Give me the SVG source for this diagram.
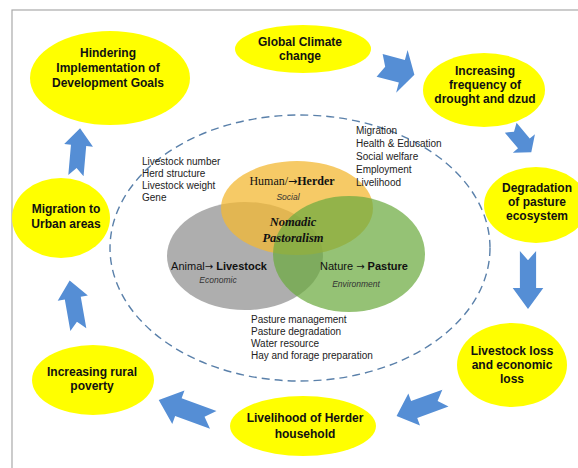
<svg xmlns="http://www.w3.org/2000/svg" width="578" height="468" viewBox="0 0 578 468">
<style>
.node{fill:#FFFF00}
.nt{font-family:"Liberation Sans",Arial,sans-serif;font-weight:bold;font-size:12px;fill:#111;text-anchor:middle}
.lst{font-family:"Liberation Sans",Arial,sans-serif;font-size:10px;fill:#222}
.lbl{font-family:"Liberation Sans",Arial,sans-serif;font-size:11px;fill:#111;text-anchor:middle}
.ser{font-family:"Liberation Serif","Times New Roman",serif;fill:#111;text-anchor:middle}
.sub{font-family:"Liberation Sans",Arial,sans-serif;font-size:8.5px;font-style:italic;fill:#333;text-anchor:middle}
.ar{font-family:"DejaVu Sans",sans-serif;font-weight:normal}
.arr{fill:#558ED5}
</style>
<defs>
<path id="arr" d="M-25,-9 L7,-9 L7,-17 L25,0 L7,17 L7,9 L-25,9 L-17,0 Z"/>
</defs>
<rect x="12" y="10" width="600" height="500" fill="none" stroke="#aaaaaa" stroke-width="1.2"/>
<ellipse cx="300" cy="248" rx="190" ry="133" fill="none" stroke="#5a80aa" stroke-width="1.4" stroke-dasharray="8,5"/>
<g id="venn">
<ellipse cx="245" cy="256" rx="78" ry="54" fill="#9a9a9a" fill-opacity="0.8"/>
<ellipse cx="297" cy="208" rx="76" ry="47" fill="#F3B833" fill-opacity="0.75"/>
<ellipse cx="349" cy="254" rx="76" ry="58" fill="#6CAB40" fill-opacity="0.72"/>
<text class="ser" x="292" y="185" font-size="12">Human/<tspan class="ar" font-size="11">→</tspan><tspan font-weight="bold">Herder</tspan></text>
<text class="sub" x="288" y="200" font-family="Liberation Serif">Social</text>
<text class="ser" x="293" y="226" font-size="12.5" font-weight="bold" font-style="italic">Nomadic</text>
<text class="ser" x="293" y="242" font-size="12.5" font-weight="bold" font-style="italic">Pastoralism</text>
<text class="lbl" x="219" y="270">Animal<tspan class="ar" font-size="10">→</tspan> <tspan font-weight="bold">Livestock</tspan></text>
<text class="sub" x="218" y="283">Economic</text>
<text class="lbl" x="364" y="270">Nature <tspan class="ar" font-size="10">→</tspan> <tspan font-weight="bold">Pasture</tspan></text>
<text class="sub" x="356" y="287">Environment</text>
</g>
<g id="lists">
<text class="lst" x="142" y="165">Livestock number</text>
<text class="lst" x="142" y="177">Herd structure</text>
<text class="lst" x="142" y="189">Livestock weight</text>
<text class="lst" x="142" y="201">Gene</text>
<text class="lst" x="356" y="134">Migration</text>
<text class="lst" x="356" y="147">Health &amp; Education</text>
<text class="lst" x="356" y="160">Social welfare</text>
<text class="lst" x="356" y="173">Employment</text>
<text class="lst" x="356" y="186">Livelihood</text>
<text class="lst" x="251" y="323">Pasture management</text>
<text class="lst" x="251" y="335">Pasture degradation</text>
<text class="lst" x="251" y="347">Water resource</text>
<text class="lst" x="251" y="359">Hay and forage preparation</text>
</g>
<g id="n1"><ellipse class="node" cx="110" cy="78" rx="80" ry="47"/>
<text class="nt" x="108" y="57">Hindering</text><text class="nt" x="108" y="72">Implementation  of</text><text class="nt" x="108" y="87">Development Goals</text></g>
<g id="n2"><ellipse class="node" cx="303" cy="49" rx="68" ry="24"/>
<text class="nt" x="300" y="46">Global Climate</text><text class="nt" x="300" y="60">change</text></g>
<g id="n3"><ellipse class="node" cx="484" cy="90" rx="61" ry="37"/>
<text class="nt" x="485" y="75">Increasing</text><text class="nt" x="485" y="89">frequency of</text><text class="nt" x="485" y="103">drought and dzud</text></g>
<g id="n4"><ellipse class="node" cx="536" cy="205" rx="52" ry="38"/>
<text class="nt" x="537" y="192">Degradation</text><text class="nt" x="537" y="206">of pasture</text><text class="nt" x="537" y="220">ecosystem</text></g>
<g id="n5"><ellipse class="node" cx="512" cy="365" rx="55" ry="42"/>
<text class="nt" x="512" y="355">Livestock loss</text><text class="nt" x="512" y="369">and economic</text><text class="nt" x="512" y="383">loss</text></g>
<g id="n6"><ellipse class="node" cx="303" cy="426" rx="73" ry="30"/>
<text class="nt" x="305" y="422">Livelihood of Herder</text><text class="nt" x="305" y="438">household</text></g>
<g id="n7"><ellipse class="node" cx="93" cy="380" rx="61" ry="35"/>
<text class="nt" x="92" y="376">Increasing rural</text><text class="nt" x="92" y="390">poverty</text></g>
<g id="n8"><ellipse class="node" cx="61" cy="218" rx="49" ry="40"/>
<text class="nt" x="66" y="213">Migration to</text><text class="nt" x="66" y="228">Urban areas</text></g>
<g id="connectors">
<use href="#arr" class="arr" transform="translate(397,70) rotate(15) scale(0.72,1.3)"/>
<use href="#arr" class="arr" transform="translate(521,140) rotate(50) scale(0.64,0.85)"/>
<use href="#arr" class="arr" transform="translate(528,280) rotate(90) scale(1.16,0.9)"/>
<use href="#arr" class="arr" transform="translate(421,407) rotate(160) scale(1.04,1)"/>
<use href="#arr" class="arr" transform="translate(186,410) rotate(200) scale(1.16,1.05)"/>
<use href="#arr" class="arr" transform="translate(74,305) rotate(-100) scale(1,0.9)"/>
<use href="#arr" class="arr" transform="translate(78,152) rotate(-85) scale(0.95,0.85)"/>
</g>
</svg>
